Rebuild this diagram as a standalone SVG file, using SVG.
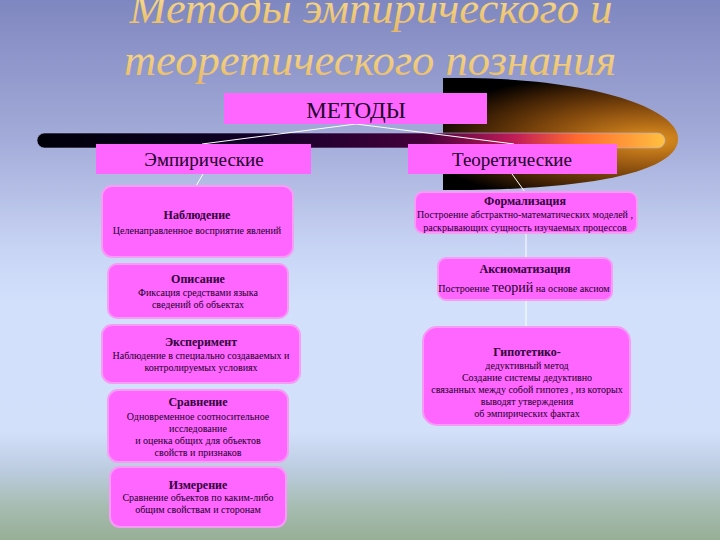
<svg xmlns="http://www.w3.org/2000/svg" width="720" height="540" viewBox="0 0 720 540">
<defs>
<linearGradient id="bg" x1="0" y1="0" x2="0" y2="1">
<stop offset="0" stop-color="#7f87c0"/>
<stop offset="0.25" stop-color="#a2aad8"/>
<stop offset="0.46" stop-color="#c8d4f4"/>
<stop offset="0.56" stop-color="#d2e0fc"/>
<stop offset="0.8" stop-color="#d2e0fa"/>
<stop offset="0.87" stop-color="#bccce0"/>
<stop offset="0.94" stop-color="#a6bcb0"/>
<stop offset="1" stop-color="#97ae96"/>
</linearGradient>
<linearGradient id="title" x1="0" y1="0" x2="0" y2="1">
<stop offset="0" stop-color="#fbe79a"/>
<stop offset="1" stop-color="#e8b660"/>
</linearGradient>
<radialGradient id="comet" gradientUnits="userSpaceOnUse" cx="650" cy="140" r="230" gradientTransform="translate(650 140) scale(1 0.3) translate(-650 -140)">
<stop offset="0" stop-color="#e0921e"/>
<stop offset="0.25" stop-color="#b06a16"/>
<stop offset="0.5" stop-color="#7e460c"/>
<stop offset="0.78" stop-color="#3e2004"/>
<stop offset="1" stop-color="#000000"/>
</radialGradient>
<linearGradient id="bar" gradientUnits="userSpaceOnUse" x1="37" y1="0" x2="665" y2="0">
<stop offset="0" stop-color="#000008"/>
<stop offset="0.35" stop-color="#100028"/>
<stop offset="0.62" stop-color="#46003c"/>
<stop offset="0.76" stop-color="#c01c58"/>
<stop offset="0.86" stop-color="#ff6a30"/>
<stop offset="1" stop-color="#ffc040"/>
</linearGradient>
</defs>
<style>
.hdr{fill:#ff66ff}
.box{fill:#ff66ff;stroke:#f59cf5;stroke-width:2}
.htxt{font-family:'Liberation Serif','DejaVu Serif',serif;fill:#200028;text-anchor:middle}
.t{font-family:'Liberation Serif','DejaVu Serif',serif;font-size:12px;font-weight:bold;fill:#300038;text-anchor:middle}
.b{font-family:'Liberation Serif','DejaVu Serif',serif;font-size:10px;fill:#1a0028;text-anchor:middle}
.conn line{stroke:#ffffff;stroke-width:1}
.ttl{font-family:'Liberation Serif','DejaVu Serif',serif;font-style:italic;font-size:44.5px;fill:url(#title);text-anchor:middle}
</style>
<rect width="720" height="540" fill="url(#bg)"/>
<g id="title">
<text class="ttl" x="371" y="23">Методы эмпирического и</text>
<text class="ttl" x="370" y="75">теоретического познания</text>
</g>
<g id="decor">
<path d="M443,78 L470,78 C600,80 680,110 678,140 C676,170 600,188 470,190 L443,190 Z" fill="url(#comet)"/>
<rect x="37" y="133" width="628" height="15" rx="7.5" fill="url(#bar)" stroke="#b0b4e0" stroke-width="0.6"/>
</g>
<g class="conn" id="connectors">
<line x1="356" y1="124" x2="202" y2="144"/>
<line x1="356" y1="124" x2="514" y2="144"/>
<line x1="203" y1="174" x2="196" y2="186"/>
<line x1="512" y1="174" x2="525" y2="192"/>
<line x1="526" y1="233" x2="526" y2="258"/>
<line x1="526" y1="300" x2="526" y2="327"/>
</g>
<g id="methods">
<rect class="hdr" x="224" y="93" width="263" height="31"/>
<text class="htxt" x="356" y="118" font-size="23">МЕТОДЫ</text>
</g>
<g id="empirical">
<rect class="hdr" x="96" y="144" width="215" height="30"/>
<text class="htxt" x="204" y="166" font-size="19">Эмпирические</text>
</g>
<g id="theoretical">
<rect class="hdr" x="408" y="144" width="209" height="30"/>
<text class="htxt" x="512" y="166" font-size="19">Теоретические</text>
</g>
<g id="observation">
<rect class="box" x="102" y="186" width="191" height="71" rx="10"/>
<text class="t" x="197" y="219">Наблюдение</text>
<text class="b" x="197" y="234">Целенаправленное восприятие явлений</text>
</g>
<g id="description">
<rect class="box" x="108" y="264" width="180" height="54" rx="9"/>
<text class="t" x="198" y="283">Описание</text>
<text class="b" x="198" y="296">Фиксация средствами языка</text>
<text class="b" x="198" y="308">сведений об объектах</text>
</g>
<g id="experiment">
<rect class="box" x="102" y="325" width="198" height="58" rx="10"/>
<text class="t" x="201" y="346">Эксперимент</text>
<text class="b" x="201" y="359">Наблюдение в специально создаваемых и</text>
<text class="b" x="201" y="371">контролируемых условиях</text>
</g>
<g id="comparison">
<rect class="box" x="108" y="390" width="180" height="72" rx="10"/>
<text class="t" x="198" y="406">Сравнение</text>
<text class="b" x="198" y="420">Одновременное соотносительное</text>
<text class="b" x="198" y="432">исследование</text>
<text class="b" x="198" y="444">и оценка общих для объектов</text>
<text class="b" x="198" y="456">свойств и признаков</text>
</g>
<g id="measurement">
<rect class="box" x="110" y="467" width="176" height="60" rx="10"/>
<text class="t" x="198" y="489">Измерение</text>
<text class="b" x="198" y="501">Сравнение объектов по каким-либо</text>
<text class="b" x="198" y="513">общим свойствам и сторонам</text>
</g>
<g id="formalization">
<rect class="box" x="415" y="192" width="222" height="41" rx="8"/>
<text class="t" x="525" y="205">Формализация</text>
<text class="b" x="525" y="218">Построение абстрактно-математических моделей ,</text>
<text class="b" x="525" y="231">раскрывающих сущность изучаемых процессов</text>
</g>
<g id="axiomatization">
<rect class="box" x="438" y="258" width="174" height="42" rx="8"/>
<text class="t" x="525" y="273">Аксиоматизация</text>
<text class="b" x="524" y="292">Построение <tspan font-size="14">теорий</tspan> на основе аксиом</text>
</g>
<g id="hypothetico">
<rect class="box" x="423" y="327" width="207" height="98" rx="14"/>
<text class="t" x="527" y="356">Гипотетико-</text>
<text class="b" x="527" y="369">дедуктивный метод</text>
<text class="b" x="527" y="381">Создание системы дедуктивно</text>
<text class="b" x="527" y="393">связанных между собой гипотез , из которых</text>
<text class="b" x="527" y="405">выводят утверждения</text>
<text class="b" x="527" y="417">об эмпирических фактах</text>
</g>
</svg>
